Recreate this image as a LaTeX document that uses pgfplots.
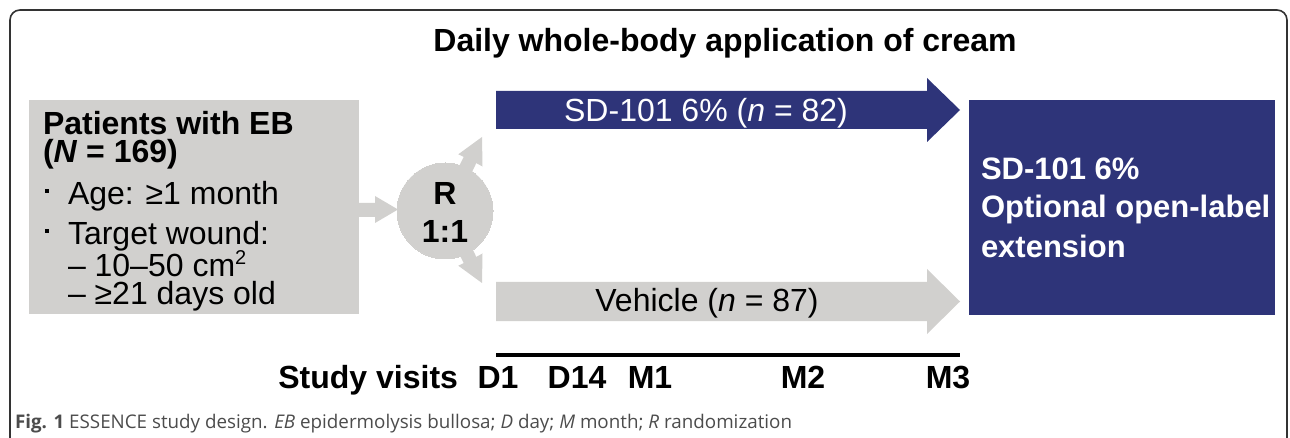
\documentclass[border=0pt]{standalone}
\usepackage{fontspec}
\setmainfont{Liberation Sans}
\newfontfamily\capfont{Open Sans}
\usepackage{pgfplots}
\pgfplotsset{compat=1.18}
\definecolor{navy}{RGB}{46,52,121}
\definecolor{lgray}{RGB}{209,208,206}
\newcommand\bigf{\fontsize{16}{19}\selectfont}
\begin{document}
\begin{tikzpicture}
\begin{axis}[width=645pt,height=219pt,scale only axis,
  xmin=0,xmax=1290,ymin=0,ymax=438,y dir=reverse,hide axis,clip=true]
% background
\addplot[fill=white,draw=none] coordinates {(0,0)(1290,0)(1290,438)(0,438)} -- cycle;
% frame
\addplot[draw=black!80,line width=0.8pt,rounded corners=5pt] coordinates {(10,445)(10,10)(1287,10)(1287,445)};
% patients box
\addplot[fill=lgray,draw=none] coordinates {(29,100)(359,100)(359,314)(29,314)} -- cycle;
% arrow to circle
\addplot[fill=lgray,draw=none] coordinates {(355,203)(375,203)(375,196)(398,209.5)(375,223)(375,217)(355,217)} -- cycle;
% small arrows from circle
\addplot[fill=lgray,draw=none] coordinates {(438.7,207.9)(463.7,156.9)(458.3,154.3)(482,137)(482.5,166.5)(476.3,163.1)(451.3,214.1)} -- cycle;
\addplot[fill=lgray,draw=none] coordinates {(438.7,212.1)(463.7,263.1)(458.3,265.7)(482,283)(482.5,253.5)(476.3,256.9)(451.3,205.9)} -- cycle;
% randomisation circle
\addplot[only marks,mark=*,mark size=24pt,color=lgray,mark options={fill=lgray,draw=lgray,line width=0pt}] coordinates {(445,211)};
% treatment arrows
\addplot[fill=navy,draw=none] coordinates {(496,91)(927,91)(927,78)(960,110)(927,142)(927,129)(496,129)} -- cycle;
\addplot[fill=lgray,draw=none] coordinates {(496,282)(927,282)(927,269)(960,301.5)(927,334)(927,321)(496,321)} -- cycle;
% extension box
\addplot[fill=navy,draw=none] coordinates {(969,100)(1275,100)(1275,315)(969,315)} -- cycle;
% timeline
\addplot[black,line width=2pt] coordinates {(496,355)(960,355)};
% bullets
\addplot[only marks,mark=square*,mark size=0.9pt,black] coordinates {(47,191)(47,231)};

\coordinate (rR) at (axis cs:445,205);
\coordinate (r11) at (axis cs:445,243);
\tikzset{every node/.style={inner sep=0pt,outer sep=0pt}}
\node[anchor=base,font=\bfseries\bigf] at (axis cs:725,52) {Daily whole-body application of cream};
\node[anchor=base west,font=\bfseries\bigf] at (axis cs:43,135) {Patients with EB};
\node[anchor=base west,font=\bfseries\bigf] at (axis cs:43,163) {(\textit{N} = 169)};
\node[anchor=base west,font=\bigf] at (axis cs:68,205) {Age: ≥1 month};
\node[anchor=base west,font=\bigf] at (axis cs:68,245) {Target wound:};
\node[anchor=base west,font=\bigf] at (axis cs:68,277) {– 10–50 cm\textsuperscript{\fontsize{10}{10}\selectfont 2}};
\node[anchor=base west,font=\bigf] at (axis cs:68,305) {– ≥21 days old};
\node[anchor=base,font=\bigf,text=white] at (axis cs:706,122) {SD-101 6\% (\textit{n} = 82)};
\node[anchor=base,font=\bigf] at (axis cs:707,312) {Vehicle (\textit{n} = 87)};
\node[anchor=base west,font=\bfseries\fontsize{15.5}{18}\selectfont,text=white] at (axis cs:981,180) {SD-101 6\%};
\node[anchor=base west,font=\bfseries\fontsize{15.5}{18}\selectfont,text=white] at (axis cs:981,218) {Optional open-label};
\node[anchor=base west,font=\bfseries\fontsize{15.5}{18}\selectfont,text=white] at (axis cs:981,257) {extension};
\node[anchor=base east,font=\bfseries\bigf] at (axis cs:458,388) {Study visits};
\node[anchor=base,font=\bfseries\bigf] at (axis cs:498,388) {D1};
\node[anchor=base,font=\bfseries\bigf] at (axis cs:577,388) {D14};
\node[anchor=base,font=\bfseries\bigf] at (axis cs:650,388) {M1};
\node[anchor=base,font=\bfseries\bigf] at (axis cs:803,388) {M2};
\node[anchor=base,font=\bfseries\bigf] at (axis cs:948,388) {M3};
\node[anchor=base west,font=\capfont\fontsize{9.4}{11}\selectfont,text=black!70] at (axis cs:15,428) {\textbf{Fig. 1} ESSENCE study design. \textit{EB} epidermolysis bullosa; \textit{D} day; \textit{M} month; \textit{R} randomization};
\end{axis}
\node[anchor=base,inner sep=0pt,font=\bfseries\bigf] at (rR) {R};
\node[anchor=base,inner sep=0pt,font=\bfseries\bigf] at (r11) {1:1};
\end{tikzpicture}
\end{document}
